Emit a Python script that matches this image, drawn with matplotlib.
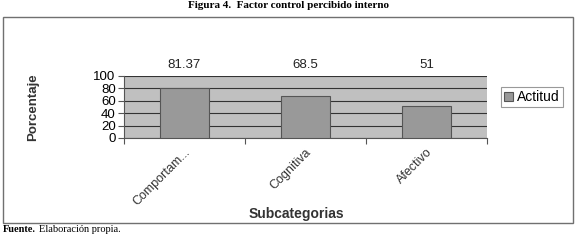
import matplotlib
matplotlib.use("Agg")
import matplotlib.pyplot as plt
from matplotlib.patches import Rectangle

categories = ["Comportam...", "Cognitiva", "Afectivo"]
values = [81.37, 68.5, 51]
value_labels = ["81.37", "68.5", "51"]
series_name = "Actitud"
yticks = [0, 20, 40, 60, 80, 100]

plt.rcParams['font.family'] = ['Liberation Sans', 'DejaVu Sans']

fig = plt.figure(figsize=(5.77, 2.40), dpi=100)
fig.patch.set_facecolor('white')

# outer frame
fig.add_artist(Rectangle((3/577, 1 - 223/240), 570/577, 206/240, transform=fig.transFigure,
                         fill=False, edgecolor='#707070', linewidth=1.0))

ax = fig.add_axes([124/577, 102/240, 363/577, 62/240])
ax.set_facecolor('#c0c0c0')
x = list(range(len(categories)))
bars = ax.bar(x, values, width=0.4, color='#999999', edgecolor='#555555', linewidth=0.8,
              zorder=3, label=series_name)
ax.set_xlim(-0.5, len(categories) - 0.5)
ax.set_ylim(0, 100)
ax.set_yticks(yticks)
ax.set_yticklabels([str(t) for t in yticks], fontsize=9.5)
ax.yaxis.grid(True, color='#333333', linewidth=0.8, zorder=1)
ax.set_axisbelow(True)
ax.set_xticks([i - 0.5 for i in range(len(categories) + 1)])
ax.set_xticklabels([])
ax.set_xticks(x, minor=True)
ax.set_xticklabels(categories, minor=True, rotation=45, ha='right', rotation_mode='anchor',
                   fontsize=9, color='#333333')
ax.tick_params(axis='x', which='minor', length=0, pad=6)
ax.tick_params(axis='x', which='major', length=4, color='#555555', direction='out')
ax.tick_params(axis='y', length=4, color='#555555', pad=2, direction='out')
for s in ['top', 'right']:
    ax.spines[s].set_visible(False)
ax.spines['left'].set_color('#555555')
ax.spines['bottom'].set_color('#555555')

for xi, lab in zip(x, value_labels):
    ax.text(xi, 1.08, lab, transform=ax.get_xaxis_transform(), ha='center', va='bottom',
            fontsize=9.5, color='#222222')

ax.set_ylabel("Porcentaje", fontsize=9.5, fontweight='bold', color='#333333')
ax.yaxis.set_label_coords(-0.235, 0.5)
ax.set_xlabel("Subcategorias", fontsize=10, fontweight='bold', color='#333333')
ax.xaxis.set_label_coords(0.475, -1.12)

leg = fig.legend(handles=[bars], labels=[series_name], loc='center',
                 bbox_to_anchor=(532/577, 1 - 97/240), fontsize=10, frameon=True,
                 fancybox=False, edgecolor='#808080', handlelength=0.6, handleheight=0.6,
                 handletextpad=0.3, borderpad=0.25, borderaxespad=0)
leg.get_frame().set_linewidth(0.8)

serif = ['Liberation Serif', 'DejaVu Serif']
fig.text(0.5, 1 - 6/240, "Figura 4.  Factor control percibido interno", ha='center', va='center',
         fontsize=8, fontweight='bold', family=serif)
t1 = fig.text(3/577, 1 - 230/240, "Fuente.", ha='left', va='center',
              fontsize=7.5, fontweight='bold', family=serif)
fig.text(0, 0, "Elaboración propia.", fontsize=7.5, family=serif)
fig.texts[-1].remove()
ax.annotate("Elaboración propia.", xy=(1, 0.5), xycoords=t1, xytext=(2.5, 0),
            textcoords='offset points', ha='left', va='center', fontsize=7.5,
            family=serif, annotation_clip=False)

fig.savefig("out.png", dpi=100)
